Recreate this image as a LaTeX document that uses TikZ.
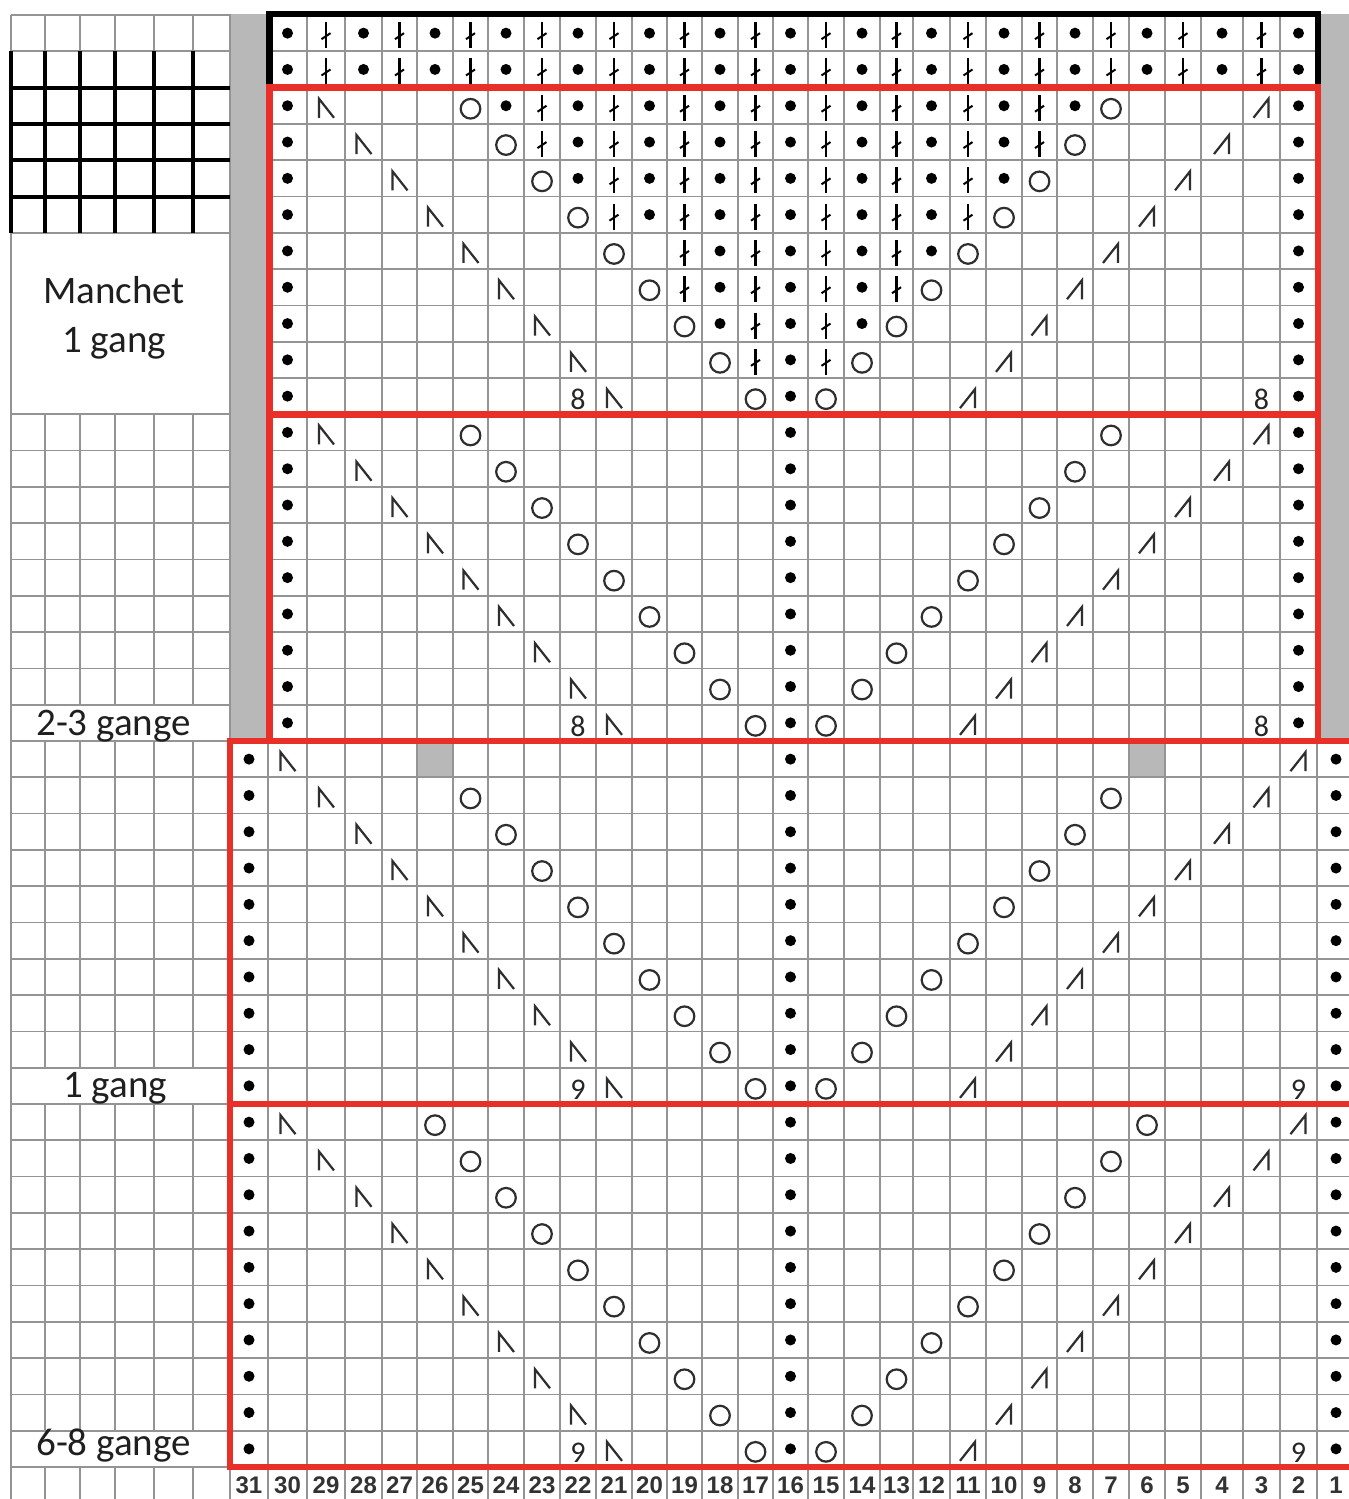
\documentclass[tikz,border=0pt]{standalone}
\usepackage{fontspec}
\setmainfont{Carlito}
\newfontfamily\numfont{Liberation Sans}
\definecolor{kred}{RGB}{232,48,40}
\definecolor{kgray}{RGB}{184,184,184}
\def\CL{{230,268,307,345,382,417,453,488,524,560,596,632,667,702,738,773,808,844,880,913,950,986,1022,1057,1093,1129,1165,1201,1243,1280,1317,1355}}
\newcommand\kcx[1]{%
  \pgfmathsetmacro\kxa{\CL[31-(#1)]}%
  \pgfmathsetmacro\kxb{\CL[32-(#1)]}%
  \pgfmathsetmacro\kx{(\kxa+\kxb)/2}}
\newcommand\kput[3]{%
  \kcx{#2}%
  \pgfmathsetmacro\ky{15+(#3-0.5)*36.3}%
  \pic at (\kx,\ky) {#1};}
\newcommand\kstitch[2]{\ifodd#1\relax\kput{ktw}{#1}{#2}\else\kput{kdot}{#1}{#2}\fi}
\newcommand\knum[3]{%
  \kcx{#1}%
  \pgfmathsetmacro\ky{15+(#2-0.5)*36.3+3.5}%
  \node[cellnum] (n#1r#2) at (\kx,\ky) {#3};}
\newcommand\krowlow[2]{%
  \kput{kdot}{31}{#1}\kput{kdot}{1}{#1}\kput{kdot}{16}{#1}%
  \pgfmathtruncatemacro\cL{29-(#2)}\pgfmathtruncatemacro\cR{3+(#2)}%
  \kput{kssk}{\cL}{#1}\kput{ktog}{\cR}{#1}%
  \ifnum#1=21 \else
    \pgfmathtruncatemacro\cO{25-(#2)}\pgfmathtruncatemacro\cP{7+(#2)}%
    \kput{kyo}{\cO}{#1}\kput{kyo}{\cP}{#1}%
  \fi}
\tikzset{
  gridl/.style={draw=black!42, line width=0.85pt},
  thickl/.style={draw=black, line width=2pt},
  redbox/.style={draw=kred, line width=3.2pt},
  blackbox/.style={draw=black, line width=3.2pt},
  symb/.style={draw=black!82, line width=1.1pt},
  kdot/.pic={\fill[black] (0,0) circle (5.5);},
  ktw/.pic={\draw[black, line width=1.3pt] (0,-11) -- (0,15); \draw[black, line width=1pt] (-4.5,6) -- (4.5,0);},
  kyo/.pic={\draw[symb] (0,3) circle (9.8);},
  kssk/.pic={\draw[symb] (-7,12) -- (-7,-7) -- (8,12);},
  ktog/.pic={\draw[symb] (-8,12) -- (7,-7) -- (7,12);},
  cellnum/.style={font=\fontsize{15pt}{17pt}\selectfont, text=black!85, inner sep=0pt},
  colnum/.style={font=\numfont\bfseries\fontsize{12pt}{14pt}\selectfont, text=black!80, inner sep=0pt},
  sidelbl/.style={font=\fontsize{19.5pt}{23pt}\selectfont, text=black!88, anchor=base, inner sep=0pt},
}
\begin{document}
\begin{tikzpicture}[x=0.5pt,y=-0.5pt]
\useasboundingbox (0,0) rectangle (1349,1499);
\clip (0,0) rectangle (1349,1499);
\fill[white] (0,0) rectangle (1349,1499);
% gray cells of row 21
\fill[kgray] (417,741) rectangle (453,777.3);
\fill[kgray] (1129,741) rectangle (1165,777.3);
% grid lines
\foreach \xx in {11,45,80,115,154,193,230,268,307,345,382,417,453,488,524,560,596,632,667,702,738,773,808,844,880,913,950,986,1022,1057,1093,1129,1165,1201,1243,1280,1317,1355}
  \draw[gridl] (\xx,15) -- (\xx,1505);
\foreach \rr in {0,...,41}
  \draw[gridl] (11,{15+\rr*36.3}) -- (1360,{15+\rr*36.3});
% gray side columns
\fill[kgray] (230.6,14) rectangle (268,741);
\fill[kgray] (1317,14) rectangle (1360,741);
% white label boxes
\fill[white] (12,233.8) rectangle (229.4,413.3);
\fill[white] (12,705.7) rectangle (229.4,740);
\fill[white] (12,1068.7) rectangle (229.4,1103);
\fill[white] (12,1431.7) rectangle (229.4,1466);
% thick legend grid
\foreach \xx in {11,45,80,115,154,193}
  \draw[thickl] (\xx,51.3) -- (\xx,232.8);
\foreach \rr in {2,3,4,5}
  \draw[thickl] (10,{15+\rr*36.3}) -- (230,{15+\rr*36.3});
% labels
\node[sidelbl] (lblManchet) at (114,303) {Manchet};
\node[sidelbl] (lblGangA) at (114,352) {1 gang};
\node[sidelbl] (lblGangB) at (113.5,735) {2-3 gange};
\node[sidelbl] (lblGangC) at (115,1097) {1 gang};
\node[sidelbl] (lblGangD) at (113.5,1455) {6-8 gange};
% section A
\foreach \rr in {1,2}{\foreach \cc in {2,...,30}{\kstitch{\cc}{\rr}}}
% section B
\foreach \rr in {3,...,11}{
  \pgfmathtruncatemacro\kk{\rr-3}
  \pgfmathtruncatemacro\cL{29-\kk}
  \pgfmathtruncatemacro\cO{25-\kk}
  \pgfmathtruncatemacro\cP{7+\kk}
  \pgfmathtruncatemacro\cR{3+\kk}
  \kput{kdot}{30}{\rr}\kput{kdot}{2}{\rr}
  \kput{kssk}{\cL}{\rr}\kput{kyo}{\cO}{\rr}\kput{kyo}{\cP}{\rr}\kput{ktog}{\cR}{\rr}
  \pgfmathtruncatemacro\lo{\cP+1}
  \pgfmathtruncatemacro\hi{\cO-1}
  \foreach \cc in {\lo,...,\hi}{
    \pgfmathtruncatemacro\kskip{and(\rr==7,\cc==20)}
    \ifnum\kskip=0 \kstitch{\cc}{\rr}\fi
  }
}
% section C
\foreach \rr in {12,...,20}{
  \pgfmathtruncatemacro\kk{\rr-12}
  \pgfmathtruncatemacro\cL{29-\kk}
  \pgfmathtruncatemacro\cO{25-\kk}
  \pgfmathtruncatemacro\cP{7+\kk}
  \pgfmathtruncatemacro\cR{3+\kk}
  \kput{kdot}{30}{\rr}\kput{kdot}{2}{\rr}\kput{kdot}{16}{\rr}
  \kput{kssk}{\cL}{\rr}\kput{kyo}{\cO}{\rr}\kput{kyo}{\cP}{\rr}\kput{ktog}{\cR}{\rr}
}
% sections D and E
\foreach \rr in {21,...,30}{\pgfmathtruncatemacro\kk{\rr-22}\krowlow{\rr}{\kk}}
\foreach \rr in {31,...,40}{\pgfmathtruncatemacro\kk{\rr-32}\krowlow{\rr}{\kk}}
% repeat numbers
\knum{22}{11}{8}\knum{3}{11}{8}
\knum{22}{20}{8}\knum{3}{20}{8}
\knum{22}{30}{9}\knum{2}{30}{9}
\knum{22}{40}{9}\knum{2}{40}{9}
% boxes
\draw[blackbox] (269.5,14) rectangle (1318,87.6);
\draw[redbox] (269.5,87.6) rectangle (1318,414.3);
\draw[redbox] (269.5,414.3) rectangle (1318,741);
\draw[redbox] (230,741) rectangle (1370,1104);
\draw[redbox] (230,1104) rectangle (1370,1467);
% column numbers
\foreach \cc in {1,...,31}{
  \kcx{\cc}
  \node[colnum] (col\cc) at (\kx,1485.5) {\cc};
}
\end{tikzpicture}
\end{document}
